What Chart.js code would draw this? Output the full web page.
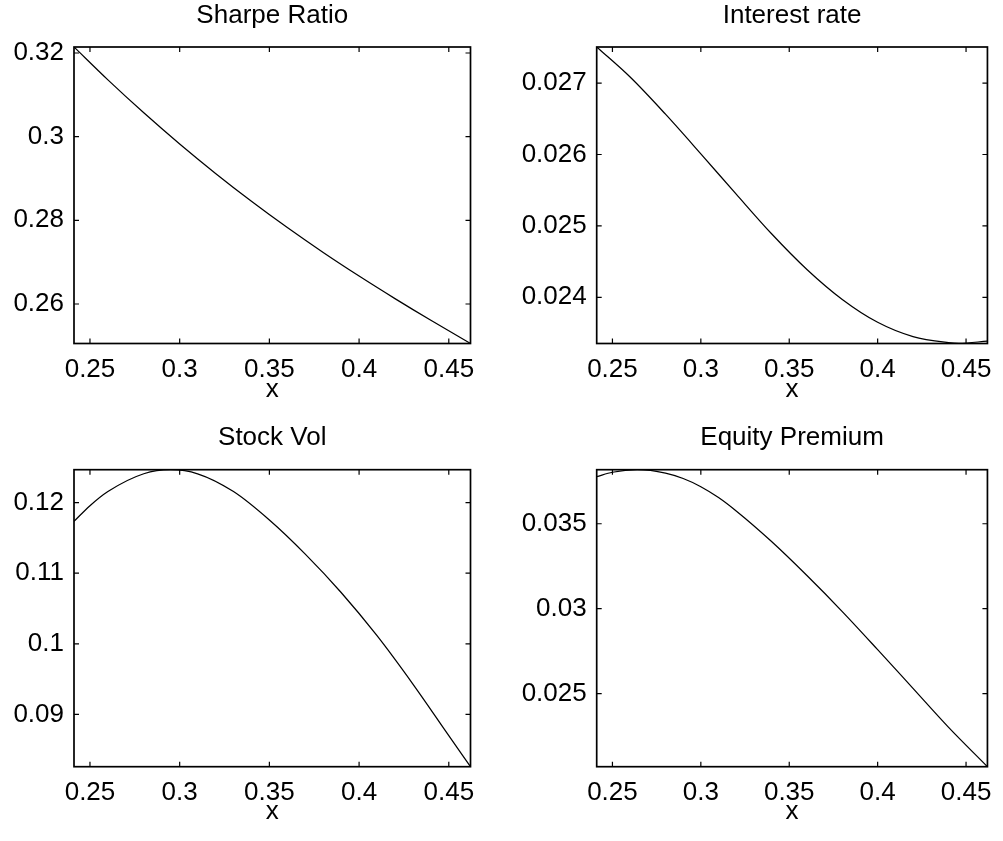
<!DOCTYPE html>
<html>
<head>
<meta charset="utf-8">
<script src="https://cdn.jsdelivr.net/npm/chart.js@4.4.1/dist/chart.umd.min.js"></script>
<style>
html, body { margin: 0; padding: 0; background: #fff; }
#wrap { position: relative; width: 1003px; height: 841px; overflow: hidden; background: #fff; }
canvas { position: absolute; }
</style>
</head>
<body>
<div id="wrap">
  <canvas id="c1" width="501" height="420" style="left:0px;top:0px;width:501px;height:420px"></canvas>
  <canvas id="c2" width="502" height="420" style="left:501px;top:0px;width:502px;height:420px"></canvas>
  <canvas id="c3" width="501" height="421" style="left:0px;top:420px;width:501px;height:421px"></canvas>
  <canvas id="c4" width="502" height="421" style="left:501px;top:420px;width:502px;height:421px"></canvas>
</div>
<script>
// ---------- data ----------
const titles = ["Sharpe Ratio", "Interest rate", "Stock Vol", "Equity Premium"];
const xLabel = "x";
const xMin = 0.2411, xMax = 0.4621;
const xTicks = [0.25, 0.3, 0.35, 0.4, 0.45];

const sharpeX = [0.2411, 0.26, 0.28, 0.30, 0.32, 0.34, 0.36, 0.38, 0.40, 0.42, 0.44, 0.4621];
const sharpeY = [0.32144, 0.31357, 0.30570, 0.29825, 0.29121, 0.28455, 0.27826, 0.27231, 0.26667, 0.26128, 0.25609, 0.25056];
const sharpeRange = [0.25055, 0.32144];
const sharpeTicks = [0.26, 0.28, 0.3, 0.32];

const rateX = [0.2411, 0.26, 0.28, 0.30, 0.32, 0.34, 0.36, 0.38, 0.40, 0.42, 0.44, 0.446, 0.4621];
const rateY = [0.027506, 0.027085, 0.026565, 0.02601, 0.025445, 0.02489, 0.02439, 0.02397, 0.02365, 0.02345, 0.023366, 0.023355, 0.023387];
const rateRange = [0.023353, 0.027506];
const rateTicks = [0.024, 0.025, 0.026, 0.027];

const volX = [0.2411, 0.25, 0.26, 0.28, 0.295, 0.31, 0.33, 0.35, 0.37, 0.39, 0.41, 0.43, 0.45, 0.4621];
const volY = [0.11734, 0.11956, 0.12157, 0.12409, 0.12466, 0.12408, 0.12156, 0.11753, 0.11270, 0.10727, 0.10115, 0.0943, 0.0870, 0.0826];
const volRange = [0.0826, 0.12466];
const volTicks = [0.09, 0.1, 0.11, 0.12];

const premX = [0.2411, 0.25, 0.264, 0.28, 0.29, 0.30, 0.31, 0.32, 0.34, 0.36, 0.38, 0.40, 0.42, 0.44, 0.4621];
const premY = [0.03777, 0.03803, 0.03818, 0.03798, 0.03766, 0.03718, 0.03654, 0.03575, 0.03395, 0.03195, 0.02983, 0.02759, 0.02531, 0.02303, 0.02070];
const premRange = [0.02070, 0.03818];
const premTicks = [0.025, 0.03, 0.035];

// ---------- layout (positions / sizes only) ----------
const FONT = "'Liberation Sans', Arial, Helvetica, sans-serif";
const FS = 26;
const layouts = [
  { id: "c1", yW: 74.0, padR: 30.5, tTop: 0.0, tBot: 15.8, xH: 76.5, xtBot: 14.4 },
  { id: "c2", yW: 95.7, padR: 8.7,  tTop: 0.0, tBot: 15.8, xH: 76.5, xtBot: 14.4 },
  { id: "c3", yW: 74.0, padR: 30.5, tTop: 2.1, tBot: 16.4, xH: 74.3, xtBot: 13.4 },
  { id: "c4", yW: 95.7, padR: 8.7,  tTop: 2.1, tBot: 16.4, xH: 74.3, xtBot: 13.4 }
];
const series = [
  { xs: sharpeX, ys: sharpeY, range: sharpeRange, ticks: sharpeTicks },
  { xs: rateX,   ys: rateY,   range: rateRange,   ticks: rateTicks },
  { xs: volX,    ys: volY,    range: volRange,    ticks: volTicks },
  { xs: premX,   ys: premY,   range: premRange,   ticks: premTicks }
];

Chart.defaults.font.family = FONT;
Chart.defaults.color = "#000";

const boxPlugin = {
  id: "matlabBox",
  afterDatasetsDraw(chart) {
    const { ctx, chartArea: { left, right, top, bottom }, scales: { x, y } } = chart;
    ctx.save();
    ctx.strokeStyle = "#000";
    ctx.lineWidth = 1.7;
    ctx.strokeRect(left, top, right - left, bottom - top);
    const L = 5;
    ctx.lineWidth = 1.2;
    ctx.beginPath();
    x.ticks.forEach(t => {
      const px = x.getPixelForValue(t.value);
      ctx.moveTo(px, bottom); ctx.lineTo(px, bottom - L);
      ctx.moveTo(px, top); ctx.lineTo(px, top + L);
    });
    y.ticks.forEach(t => {
      const py = y.getPixelForValue(t.value);
      ctx.moveTo(left, py); ctx.lineTo(left + L, py);
      ctx.moveTo(right, py); ctx.lineTo(right - L, py);
    });
    ctx.stroke();
    ctx.restore();
  }
};

series.forEach((s, i) => {
  const lay = layouts[i];
  const el = document.getElementById(lay.id);
  new Chart(el, {
    type: "line",
    data: {
      datasets: [{
        data: s.xs.map((xv, k) => ({ x: xv, y: s.ys[k] })),
        borderColor: "#000",
        borderWidth: 1.25,
        pointRadius: 0,
        fill: false,
        cubicInterpolationMode: "monotone"
      }]
    },
    options: {
      responsive: false,
      animation: false,
      devicePixelRatio: 1,
      layout: { padding: { left: 0, right: lay.padR, top: 0, bottom: 0 } },
      plugins: {
        legend: { display: false },
        tooltip: { enabled: false },
        title: {
          display: true,
          fullSize: false,
          text: titles[i],
          color: "#000",
          font: { family: FONT, size: FS, weight: "normal", lineHeight: 1.2 },
          padding: { top: lay.tTop, bottom: lay.tBot }
        }
      },
      scales: {
        x: {
          type: "linear",
          position: "bottom",
          min: xMin,
          max: xMax,
          grid: { display: false, drawTicks: false },
          border: { display: false },
          afterBuildTicks: sc => { sc.ticks = xTicks.map(v => ({ value: v })); },
          afterFit: sc => { sc.height = lay.xH; },
          ticks: {
            padding: 10.8,
            maxRotation: 0,
            autoSkip: false,
            color: "#000",
            font: { family: FONT, size: FS },
            callback: v => String(v)
          },
          title: {
            display: true,
            text: xLabel,
            color: "#000",
            font: { family: FONT, size: FS, lineHeight: 1.2 },
            padding: { top: 0, bottom: lay.xtBot }
          }
        },
        y: {
          type: "linear",
          min: s.range[0],
          max: s.range[1],
          grid: { display: false, drawTicks: false },
          border: { display: false },
          afterBuildTicks: sc => { sc.ticks = s.ticks.map(v => ({ value: v })); },
          afterFit: sc => { sc.width = lay.yW; },
          ticks: {
            padding: 10,
            autoSkip: false,
            color: "#000",
            font: { family: FONT, size: FS },
            callback: v => String(v)
          }
        }
      }
    },
    plugins: [boxPlugin]
  });
});
</script>
</body>
</html>
